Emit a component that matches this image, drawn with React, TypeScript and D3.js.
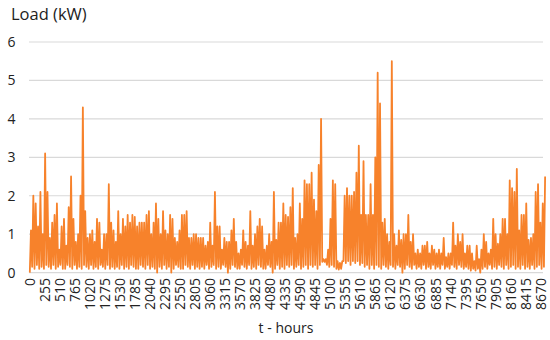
import React, { useRef, useEffect } from "react";
import * as d3 from "d3";

// hourly load over one year, read as a peak and a trough for every 40-hour block
const binHours = 40;

const peakLoad = [
  1.1, 2.0, 1.8, 1.2, 2.1, 1.0, 3.1, 2.1, 0.9, 1.3, 1.5, 1.8, 0.6, 1.2, 1.4, 0.7, 1.7, 2.5, 1.4, 0.8,
  1.0, 2.0, 4.3, 1.6, 0.9, 1.0, 1.1, 0.8, 1.4, 1.3, 0.6, 1.0, 1.0, 2.3, 1.3, 1.1, 0.8,
  1.6, 1.0, 1.4, 1.2, 1.5, 1.3, 1.5, 1.45, 1.2, 1.3, 1.3, 1.3, 1.5, 1.6, 1.0, 1.3, 1.8, 1.4, 1.0,
  1.6, 1.1, 1.0, 1.5, 1.4, 0.9, 0.8, 1.1, 1.5, 1.5, 1.6, 0.9, 0.9, 1.0, 1.0, 0.9, 0.9,
  0.9, 0.7, 0.8, 1.3, 0.7, 2.1, 1.2, 1.2, 0.6, 0.9, 0.8, 0.8, 1.1, 1.4, 0.8, 0.5, 0.6, 1.1, 0.8,
  0.7, 1.6, 0.7, 1.0, 1.2, 1.4, 1.2, 0.6, 0.7, 1.0, 0.8, 2.1, 0.85, 1.3, 1.3, 1.8, 1.5, 1.45,
  1.7, 2.2, 0.9, 1.0, 1.8, 1.4, 2.4, 2.3, 2.3, 2.6, 1.9, 1.6, 2.8, 4.0, 0.35, 0.35, 0.6, 1.4, 2.4,
  2.3, 0.3, 0.25, 0.3, 2.0, 2.2, 2.0, 2.0, 2.1, 2.6, 3.3, 1.5, 2.9, 1.5, 1.5, 2.3, 1.5, 3.0,
  5.2, 4.4, 1.3, 1.4, 1.0, 0.8, 5.5, 1.0, 0.7, 1.1, 0.85, 1.0, 1.0, 1.5, 0.8, 1.0, 0.5, 0.6, 0.5,
  0.7, 0.7, 0.8, 0.5, 0.7, 0.6, 0.5, 0.6, 0.5, 0.9, 0.4, 0.5, 0.5, 1.3, 0.7, 1.0, 0.8, 1.0,
  0.5, 0.7, 0.7, 0.5, 0.3, 0.7, 0.35, 0.6, 1.0, 0.8, 0.5, 0.6, 1.4, 1.0, 0.75, 1.0, 1.4, 1.4,
  1.0, 2.4, 2.2, 2.1, 2.7, 1.1, 1.5, 1.5, 1.8, 0.85, 0.9, 1.0, 2.1, 2.3, 1.3, 1.8, 2.5,
];

const baseLoad = [
  0.0, 0.15, 0.1, 0.2, 0.1, 0.15, 0.1, 0.2, 0.15, 0.1, 0.2, 0.1, 0.15, 0.2, 0.1, 0.1, 0.2, 0.15, 0.1,
  0.2, 0.1, 0.15, 0.1, 0.2, 0.15, 0.1, 0.2, 0.1, 0.15, 0.1, 0.2, 0.15, 0.1, 0.2, 0.1, 0.15, 0.1,
  0.15, 0.1, 0.2, 0.1, 0.15, 0.1, 0.2, 0.15, 0.1, 0.1, 0.2, 0.15, 0.1, 0.2, 0.1, 0.15, 0.1, 0.0,
  0.15, 0.1, 0.2, 0.1, 0.15, 0.0, 0.1, 0.2, 0.15, 0.1, 0.1, 0.2, 0.15, 0.1, 0.2, 0.1, 0.15, 0.1,
  0.15, 0.1, 0.2, 0.1, 0.15, 0.2, 0.1, 0.15, 0.1, 0.2, 0.15, 0.0, 0.1, 0.2, 0.15, 0.1, 0.1, 0.2,
  0.15, 0.1, 0.2, 0.1, 0.15, 0.1, 0.2, 0.15, 0.1, 0.1, 0.2, 0.15, 0.0, 0.1, 0.2, 0.1, 0.15, 0.1, 0.2,
  0.15, 0.2, 0.1, 0.15, 0.2, 0.1, 0.15, 0.2, 0.1, 0.2, 0.15, 0.2, 0.1, 0.2, 0.28, 0.28, 0.2, 0.15,
  0.2, 0.15, 0.1, 0.08, 0.1, 0.3, 0.25, 0.3, 0.2, 0.3, 0.25, 0.3, 0.2, 0.25, 0.15, 0.2, 0.1, 0.2, 0.1,
  0.2, 0.15, 0.1, 0.2, 0.15, 0.1, 0.2, 0.15, 0.1, 0.2, 0.15, 0.0, 0.1, 0.2, 0.15, 0.1, 0.2, 0.1,
  0.15, 0.1, 0.2, 0.1, 0.15, 0.1, 0.2, 0.1, 0.15, 0.1, 0.2, 0.1, 0.15, 0.1, 0.2, 0.15, 0.1, 0.2, 0.15,
  0.1, 0.15, 0.1, 0.05, 0.1, 0.05, 0.1, 0.0, 0.1, 0.15, 0.1, 0.2, 0.1, 0.15, 0.1, 0.2, 0.15, 0.1,
  0.2, 0.1, 0.15, 0.2, 0.1, 0.15, 0.1, 0.2, 0.1, 0.15, 0.1, 0.2, 0.1, 0.15, 0.2, 0.1, 0.15,
];

const totalHours = 8760;
const xTicks = d3.range(0, totalHours, 255);
const yTicks = [0, 1, 2, 3, 4, 5, 6];

const LoadChart = () => {
  const svgRef = useRef(null);

  useEffect(() => {
    const width = 550;
    const height = 340;
    const font = "'Open Sans', sans-serif";

    const svg = d3.select(svgRef.current);
    svg.selectAll("*").remove();
    svg.attr("width", width).attr("height", height).style("background", "#fff");

    const x = d3.scaleLinear().domain([0, totalHours]).range([29.5, 546]);
    const y = d3.scaleLinear().domain([0, 6]).range([272.6, 42]);

    // gridlines
    svg
      .append("g")
      .selectAll("line")
      .data(yTicks)
      .enter()
      .append("line")
      .attr("x1", 29)
      .attr("x2", 543)
      .attr("y1", (d) => y(d))
      .attr("y2", (d) => y(d))
      .attr("stroke", "#d9d9d9")
      .attr("stroke-width", 1.2);

    // y labels
    svg
      .append("g")
      .selectAll("text")
      .data(yTicks)
      .enter()
      .append("text")
      .attr("x", 15.5)
      .attr("y", (d) => y(d))
      .attr("dy", "0.36em")
      .attr("text-anchor", "end")
      .style("font-family", font)
      .style("font-size", "14px")
      .attr("fill", "#222")
      .text((d) => d);

    // zigzag trough -> peak for each block
    const points = [];
    peakLoad.forEach((p, i) => {
      points.push([i * binHours + 5, baseLoad[i]]);
      points.push([i * binHours + 25, p]);
    });

    const line = d3
      .line()
      .x((d) => x(d[0]))
      .y((d) => y(d[1]));

    svg
      .append("path")
      .datum(points)
      .attr("d", line)
      .attr("fill", "none")
      .attr("stroke", "#f7822b")
      .attr("stroke-width", 1.8)
      .attr("stroke-linejoin", "round");

    // x labels, rotated
    svg
      .append("g")
      .selectAll("text")
      .data(xTicks)
      .enter()
      .append("text")
      .attr("transform", (d) => `translate(${x(d + 0.5)},278) rotate(-90)`)
      .attr("dy", "0.36em")
      .attr("text-anchor", "end")
      .style("font-family", font)
      .style("font-size", "14px")
      .attr("fill", "#222")
      .text((d) => d);

    // titles
    svg
      .append("text")
      .attr("x", 11)
      .attr("y", 20)
      .style("font-family", font)
      .style("font-size", "16.5px")
      .attr("fill", "#222")
      .text("Load (kW)");

    svg
      .append("text")
      .attr("x", 286)
      .attr("y", 333)
      .attr("text-anchor", "middle")
      .style("font-family", font)
      .style("font-size", "14px")
      .attr("fill", "#222")
      .text("t - hours");
  }, []);

  return <svg ref={svgRef} style={{ position: "absolute", left: 0, top: 0 }}></svg>;
};

export default function App() {
  return <LoadChart />;
}
